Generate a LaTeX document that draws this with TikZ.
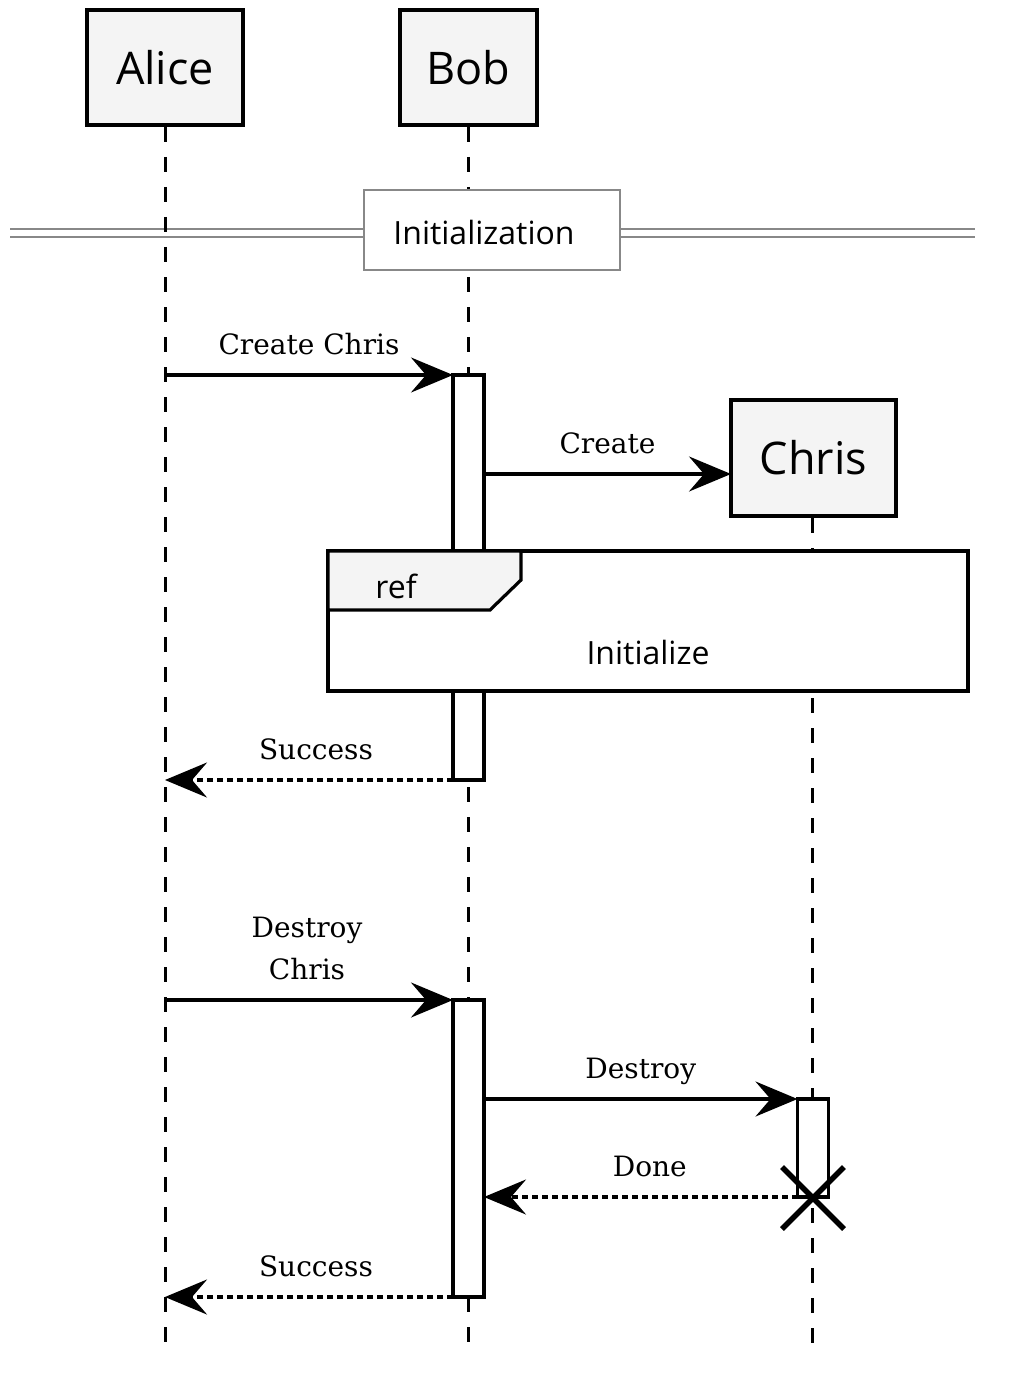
\documentclass[tikz,border=0pt]{standalone}
\usepackage{fontspec}
\setmainfont{DejaVu Serif}
\newfontfamily\sansfam{Open Sans}
\usetikzlibrary{arrows.meta}
\definecolor{actorfill}{HTML}{F4F4F4}
\definecolor{divgray}{HTML}{888888}
\begin{document}
\begin{tikzpicture}[x=1pt,y=-1pt,
  actor/.style={draw, line width=3.2pt, fill=actorfill, inner sep=0pt, outer sep=0pt,
    font=\sansfam\fontsize{45}{54}\selectfont},
  lifeline/.style={line width=3pt, dash pattern=on 15pt off 15pt},
  msg/.style={line width=3.2pt, -{Stealth[length=42pt,width=35pt,inset=15pt]}},
  ret/.style={msg, dash pattern=on 6pt off 4pt},
  actbox/.style={draw, line width=3.2pt, fill=white, inner sep=0pt, outer sep=0pt, minimum width=31pt},
  lbl/.style={font=\fontsize{28}{42}\selectfont, align=center, inner sep=0pt, anchor=base, yshift=21pt},
  sanslbl/.style={font=\sansfam\fontsize{32}{38}\selectfont, inner sep=0pt}]
\useasboundingbox (0,0) rectangle (1009,1388);

% actors
\node[actor, minimum width=156pt, minimum height=115pt] (alice) at (165,67.5) {Alice};
\node[actor, minimum width=137pt, minimum height=115pt] (bob) at (468.5,67.5) {Bob};
\node[actor, minimum width=165pt, minimum height=116pt] (chris) at (813.5,458) {Chris};

\coordinate (aliceEnd) at (165,1352);
\coordinate (bobEnd) at (468,1352);
\coordinate (chrisEnd) at (812,1352);

% division lines
\coordinate (divL) at (10,229);
\coordinate (divR) at (975,229);
\draw[divgray, line width=1.8pt] (divL) -- (divR);
\draw[divgray, line width=1.8pt] ([yshift=-8pt]divL) -- ([yshift=-8pt]divR);

% lifelines
\draw[lifeline] ([yshift=-2pt]alice.south -| aliceEnd) -- (aliceEnd);
\draw[lifeline] ([yshift=-2pt]bob.south -| bobEnd) -- (bobEnd);
\draw[lifeline] ([yshift=-2pt]chris.south -| chrisEnd) -- (chrisEnd);

% division box
\node[draw=divgray, line width=2.8pt, fill=white, minimum width=256pt, minimum height=80pt,
  outer sep=0pt] (div) at (492,230) {};
\node[sanslbl] (divlbl) at (484,232) {Initialization};

% activations
\node[actbox, minimum height=405pt] (act1) at (468.5,577.5) {};
\node[actbox, minimum height=297pt] (act2) at (468.5,1148.5) {};
\node[actbox, minimum height=98pt] (act3) at (813,1148) {};

% ref frame
\node[draw, line width=3.2pt, fill=white, minimum width=640pt, minimum height=140pt,
  inner sep=0pt, outer sep=0pt] (ref) at (648,621) {};
\draw[line width=3.2pt, fill=actorfill, line join=miter] (ref.north west) -- (521,551) -- (521,580) -- (490,610) -- (328,610) -- cycle;
\node[sanslbl] (reflbl) at (396,586) {ref};
\node[sanslbl] (refname) at (648,652) {Initialize};

% messages
\coordinate (m1s) at (165,375);
\draw[msg] (m1s) -- (act1.north west) node[lbl, midway] (l1) {Create Chris};

\coordinate (m2s) at (484,474);
\draw[msg] (m2s) -- (chris.west |- m2s) node[lbl, midway] (l2) {Create};

\coordinate (m3e) at (165,780);
\draw[ret] (act1.south west) -- (m3e) node[lbl, midway, xshift=7pt] (l3) {Success};

\coordinate (m4s) at (165,1000);
\draw[msg] (m4s) -- (act2.north west) node[lbl, midway, xshift=-2pt] (l4) {Destroy\\Chris};

\draw[msg] (act2.east |- act3.north) -- (act3.north west) node[lbl, midway] (l5) {Destroy};

\draw[ret] (act3.south west) -- (act2.east |- act3.south) node[lbl, midway, xshift=9pt] (l6) {Done};

\coordinate (m7e) at (165,1297);
\draw[ret] (act2.south west) -- (m7e) node[lbl, midway, xshift=7pt] (l7) {Success};

% destruction
\coordinate (xc) at (813,1198);
\draw[line width=5.5pt] ([shift={(-31,-31)}]xc) -- ([shift={(31,31)}]xc);
\draw[line width=5.5pt] ([shift={(-31,31)}]xc) -- ([shift={(31,-31)}]xc);
\end{tikzpicture}
\end{document}
